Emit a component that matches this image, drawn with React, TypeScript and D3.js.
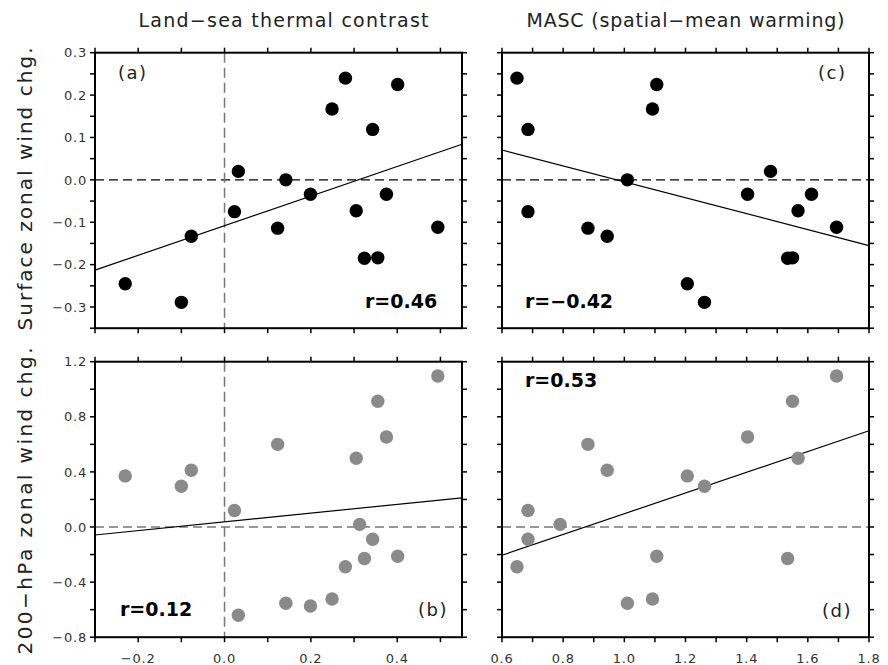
import React from "react";
import * as d3 from "d3";

// one entry per model (order kept across panels)
const landSea = [-0.23, -0.1, -0.077, 0.023, 0.032, 0.123, 0.142, 0.199, 0.249, 0.28, 0.305, 0.324, 0.343, 0.355, 0.375, 0.401, 0.494, 0.313];
const masc = [1.206, 1.262, 0.944, 0.685, 1.478, 0.881, 1.01, 1.612, 1.092, 0.649, 1.568, 1.534, 0.685, 1.55, 1.403, 1.106, 1.694, 0.79];
const sfcWind = [-0.245, -0.289, -0.133, -0.075, 0.02, -0.114, 0.0, -0.034, 0.167, 0.24, -0.073, -0.185, 0.119, -0.184, -0.034, 0.225, -0.112, null];
const u200 = [0.371, 0.296, 0.412, 0.12, -0.641, 0.6, -0.554, -0.573, -0.523, -0.289, 0.499, -0.229, -0.089, 0.913, 0.653, -0.212, 1.096, 0.019];
// panel (d) does not show two of the models
const u200Masc = [0.371, 0.296, 0.412, 0.12, null, 0.6, -0.554, null, -0.523, -0.289, 0.499, -0.229, -0.089, 0.913, 0.653, -0.212, 1.096, 0.019];

// regression lines, read at the panel edges
const fitA = [[-0.3, -0.213], [0.55, 0.084]];
const fitB = [[-0.3, -0.058], [0.55, 0.212]];
const fitC = [[0.6, 0.0704], [1.8, -0.155]];
const fitD = [[0.6, -0.205], [1.8, 0.699]];

const corrLabels = ["r=0.46", "r=0.12", "r=−0.42", "r=0.53"];
const colTitles = ["Land−sea thermal contrast", "MASC (spatial−mean warming)"];
const rowTitles = ["Surface zonal wind chg.", "200−hPa zonal wind chg."];

const xTicksLeft = d3.range(-3, 6).map((i) => i / 10);
const xTicksRight = d3.range(6, 19).map((i) => i / 10);
const yTicksTop = d3.range(-7, 7).map((i) => i / 20);
const yTicksBot = d3.range(-4, 7).map((i) => i / 5);
const xLabelsLeft = [-0.2, 0, 0.2, 0.4];
const xLabelsRight = [0.6, 0.8, 1.0, 1.2, 1.4, 1.6, 1.8];
const yLabelsTop = [-0.3, -0.2, -0.1, 0, 0.1, 0.2, 0.3];
const yLabelsBot = [-0.8, -0.4, 0, 0.4, 0.8, 1.2];

const colX = [95, 502];
const rowY = [52.7, 361.7];
const pw = 367;
const ph = 275.5;
const thin = "'DejaVu Sans', sans-serif";
const fmt = (v: number) => d3.format(".1f")(v).replace("-", "−");

const panels = [
  { col: 0, row: 0, xs: landSea, ys: sfcWind, xDom: [-0.3, 0.55], yDom: [-0.35, 0.3], xTicks: xTicksLeft, yTicks: yTicksTop, fill: "#000", fit: fitA, r: corrLabels[0], rx: 365, ry: 308, tag: "(a)", tx: 118, ty: 79, hDash: "#000", vDash: true },
  { col: 0, row: 1, xs: landSea, ys: u200, xDom: [-0.3, 0.55], yDom: [-0.8, 1.2], xTicks: xTicksLeft, yTicks: yTicksBot, fill: "#8a8a8a", fit: fitB, r: corrLabels[1], rx: 120, ry: 616, tag: "(b)", tx: 418, ty: 616, hDash: "#777", vDash: true },
  { col: 1, row: 0, xs: masc, ys: sfcWind, xDom: [0.6, 1.8], yDom: [-0.35, 0.3], xTicks: xTicksRight, yTicks: yTicksTop, fill: "#000", fit: fitC, r: corrLabels[2], rx: 525, ry: 308, tag: "(c)", tx: 818, ty: 79, hDash: "#000", vDash: false },
  { col: 1, row: 1, xs: masc, ys: u200Masc, xDom: [0.6, 1.8], yDom: [-0.8, 1.2], xTicks: xTicksRight, yTicks: yTicksBot, fill: "#8a8a8a", fit: fitD, r: corrLabels[3], rx: 525, ry: 387, tag: "(d)", tx: 822, ty: 617, hDash: "#777", vDash: false },
];

const Panel = ({ p }: { p: any }) => {
  const x0 = colX[p.col];
  const y0 = rowY[p.row];
  const x = d3.scaleLinear().domain(p.xDom).range([x0, x0 + pw]);
  const y = d3.scaleLinear().domain(p.yDom).range([y0 + ph, y0]);
  const line = d3.line<number[]>().x((d) => x(d[0])).y((d) => y(d[1]));
  const tk = 5;
  const xLabels = p.col === 0 ? xLabelsLeft : xLabelsRight;
  const yLabels = p.row === 0 ? yLabelsTop : yLabelsBot;

  return (
    <g>
      <line x1={x0} x2={x0 + pw} y1={y(0)} y2={y(0)} stroke={p.hDash} strokeWidth={1.3} strokeDasharray="9,5" />
      {p.vDash && (
        <line x1={x(0)} x2={x(0)} y1={y0} y2={y0 + ph} stroke="#777" strokeWidth={1.5} strokeDasharray="10,5" />
      )}
      <path d={line(p.fit) || ""} stroke="#000" strokeWidth={1.2} fill="none" />
      {p.xs.map((xv: number, i: number) =>
        p.ys[i] === null ? null : <circle key={i} cx={x(xv)} cy={y(p.ys[i])} r={6.7} fill={p.fill} />
      )}
      <rect x={x0} y={y0} width={pw} height={ph} fill="none" stroke="#000" strokeWidth={2} />
      {p.xTicks.map((t: number) => (
        <g key={"x" + t}>
          <line x1={x(t)} x2={x(t)} y1={y0} y2={y0 - tk} stroke="#000" strokeWidth={1.5} />
          <line x1={x(t)} x2={x(t)} y1={y0 + ph} y2={y0 + ph + tk} stroke="#000" strokeWidth={1.5} />
        </g>
      ))}
      {p.yTicks.map((t: number) => (
        <g key={"y" + t}>
          <line x1={x0} x2={x0 - tk} y1={y(t)} y2={y(t)} stroke="#000" strokeWidth={1.5} />
          <line x1={x0 + pw} x2={x0 + pw + tk} y1={y(t)} y2={y(t)} stroke="#000" strokeWidth={1.5} />
        </g>
      ))}
      {p.col === 0 &&
        yLabels.map((t) => (
          <text key={"yl" + t} x={x0 - 8} y={y(t)} dy="0.36em" textAnchor="end" fontSize={13} letterSpacing={0.8} fill="#333">
            {fmt(t)}
          </text>
        ))}
      {p.row === 1 &&
        xLabels.map((t) => (
          <text key={"xl" + t} x={x(t)} y={663} textAnchor="middle" fontSize={13} letterSpacing={0.8} fill="#333">
            {fmt(t)}
          </text>
        ))}
      <text x={p.rx} y={p.ry} fontFamily="'DejaVu Sans', sans-serif" fontWeight="bold" fontSize={19}>
        {p.r}
      </text>
      <text x={p.tx} y={p.ty} fontSize={18} letterSpacing={1.5} fill="#222">
        {p.tag}
      </text>
    </g>
  );
};

export default function App() {
  return (
    <svg width={888} height={665} style={{ position: "absolute", left: 0, top: 0, background: "#fff" }} fontFamily={thin}>
      {panels.map((p, i) => (
        <Panel key={i} p={p} />
      ))}
      {colTitles.map((t, i) => (
        <text key={t} x={colX[i] + pw / 2 + (i === 0 ? 5 : 0)} y={26.7} textAnchor="middle" fontSize={19} textLength={i === 0 ? 290 : 318} lengthAdjust="spacing" fill="#222">
          {t}
        </text>
      ))}
      {rowTitles.map((t, i) => (
        <text key={t} transform={`translate(32,${i === 0 ? 189 : 501}) rotate(-90)`} textAnchor="middle" fontSize={20} textLength={i === 0 ? 283 : 307} lengthAdjust="spacing" fill="#222">
          {t}
        </text>
      ))}
    </svg>
  );
}
